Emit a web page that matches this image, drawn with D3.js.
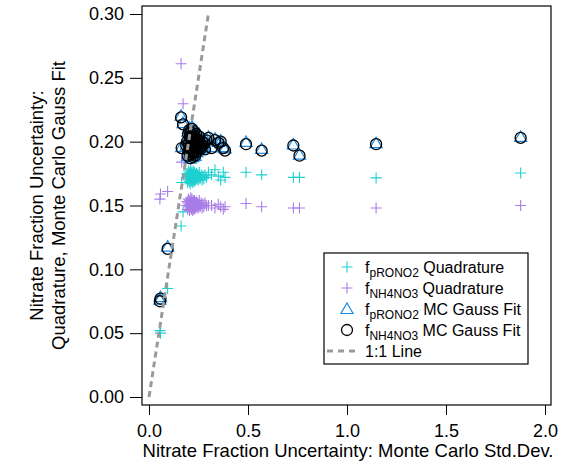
<!DOCTYPE html>
<html>
<head>
<meta charset="utf-8">
<script src="https://cdn.jsdelivr.net/npm/d3@7"></script>
<style>
  html, body { margin: 0; padding: 0; background: #fff; }
  svg { display: block; font-family: "Liberation Sans", Arial, sans-serif; }
</style>
</head>
<body>
<svg id="chart" width="566" height="469"></svg>
<script>
// Monte Carlo standard deviation of the nitrate fraction (x)
const mcStdDev = [
  0.055, 0.058, 0.094, 0.162, 0.172, 0.165, 0.300, 0.316, 0.333, 0.350, 0.362, 0.375, 0.384,
  0.490, 0.569, 0.729, 0.760, 1.147, 1.877,
  0.188, 0.192, 0.195, 0.197, 0.199, 0.201, 0.203, 0.204, 0.206, 0.207, 0.208, 0.210, 0.211,
  0.212, 0.213, 0.214, 0.215, 0.216, 0.217, 0.218, 0.219, 0.220, 0.221, 0.222, 0.223, 0.224,
  0.225, 0.226, 0.227, 0.228, 0.229, 0.230, 0.232, 0.233, 0.235, 0.236, 0.238, 0.240, 0.242,
  0.244, 0.246, 0.248, 0.251, 0.254, 0.257, 0.260, 0.264, 0.268, 0.272, 0.277, 0.283, 0.290
];
// Quadrature uncertainty, pRONO2 fraction
const quadPRONO2 = [
  0.052, 0.050, 0.085, 0.134, 0.145, 0.168, 0.176, 0.174, 0.178, 0.173, 0.170, 0.176, 0.172,
  0.176, 0.174, 0.172, 0.172, 0.1716, 0.1755,
  0.171, 0.175, 0.168, 0.173, 0.177, 0.170, 0.174, 0.169, 0.176, 0.172, 0.167, 0.174, 0.178,
  0.171, 0.173, 0.169, 0.175, 0.172, 0.176, 0.170, 0.174, 0.173, 0.168, 0.172, 0.177, 0.171,
  0.174, 0.170, 0.175, 0.173, 0.169, 0.176, 0.172, 0.171, 0.174, 0.170, 0.173, 0.175, 0.171,
  0.172, 0.174, 0.170, 0.173, 0.176, 0.171, 0.172, 0.174, 0.170, 0.173, 0.171, 0.174, 0.172
];
// Quadrature uncertainty, NH4NO3 fraction
const quadNH4NO3 = [
  0.155, 0.159, 0.161, 0.261, 0.2297, 0.184, 0.150, 0.150, 0.148, 0.151, 0.149, 0.147, 0.149,
  0.1516, 0.149, 0.148, 0.148, 0.148, 0.150,
  0.150, 0.153, 0.147, 0.152, 0.155, 0.149, 0.151, 0.146, 0.154, 0.150, 0.148, 0.152, 0.156,
  0.149, 0.151, 0.147, 0.153, 0.150, 0.155, 0.148, 0.151, 0.152, 0.146, 0.150, 0.154, 0.149,
  0.152, 0.148, 0.153, 0.151, 0.147, 0.154, 0.150, 0.149, 0.152, 0.148, 0.151, 0.153, 0.149,
  0.150, 0.152, 0.148, 0.151, 0.154, 0.149, 0.150, 0.152, 0.148, 0.151, 0.149, 0.152, 0.150
];
// Monte Carlo Gauss-fit uncertainty, pRONO2 fraction
const gaussPRONO2 = [
  0.0755, 0.0775, 0.117, 0.2195, 0.2138, 0.195, 0.203, 0.195, 0.2016, 0.199, 0.200, 0.195, 0.194,
  0.199, 0.1935, 0.197, 0.189, 0.198, 0.203,
  0.196, 0.201, 0.188, 0.207, 0.193, 0.199, 0.210, 0.191, 0.204, 0.197, 0.186, 0.202, 0.208,
  0.194, 0.199, 0.189, 0.205, 0.196, 0.211, 0.192, 0.200, 0.203, 0.187, 0.198, 0.206, 0.194,
  0.201, 0.190, 0.209, 0.197, 0.193, 0.204, 0.199, 0.188, 0.202, 0.195, 0.207, 0.198, 0.191,
  0.203, 0.196, 0.200, 0.193, 0.205, 0.197, 0.199, 0.194, 0.201, 0.196, 0.198, 0.195, 0.200
];
// Monte Carlo Gauss-fit uncertainty, NH4NO3 fraction
const gaussNH4NO3 = [
  0.0750, 0.0770, 0.116, 0.2190, 0.2135, 0.195, 0.203, 0.195, 0.2012, 0.199, 0.200, 0.195, 0.193,
  0.198, 0.1930, 0.197, 0.189, 0.198, 0.203,
  0.197, 0.200, 0.189, 0.206, 0.193, 0.198, 0.209, 0.192, 0.204, 0.196, 0.187, 0.203, 0.207,
  0.195, 0.198, 0.190, 0.204, 0.197, 0.210, 0.192, 0.201, 0.202, 0.188, 0.199, 0.205, 0.193,
  0.200, 0.191, 0.208, 0.198, 0.192, 0.203, 0.200, 0.189, 0.201, 0.196, 0.206, 0.197, 0.192,
  0.202, 0.195, 0.201, 0.194, 0.204, 0.196, 0.198, 0.195, 0.200, 0.197, 0.199, 0.194, 0.201
];

const xTicks = [0, 0.5, 1.0, 1.5, 2.0];
const yTicks = [0, 0.05, 0.10, 0.15, 0.20, 0.25, 0.30];
const oneToOne = [0, 0.3];

const colCyan = "#1fcfcf";
const colPurple = "#a97de8";
const colBlue = "#1b8be6";
const colGrey = "#9a9a9a";

const svg = d3.select("#chart");
const frame = { left: 142, right: 551, top: 6, bottom: 405 };

const x = d3.scaleLinear().domain([0, 2]).range([149, 545]);
const y = d3.scaleLinear().domain([0, 0.3]).range([397, 14]);

// axes
const yAxis = svg.append("g")
  .attr("transform", `translate(${frame.left},0)`)
  .call(d3.axisLeft(y).tickValues(yTicks).tickFormat(d3.format(".2f")).tickSize(12).tickPadding(6));
const xAxis = svg.append("g")
  .attr("transform", `translate(0,${frame.bottom})`)
  .call(d3.axisBottom(x).tickValues(xTicks).tickFormat(d3.format(".1f")).tickSize(10).tickPadding(9));
[yAxis, xAxis].forEach(g => {
  g.select(".domain").remove();
  g.selectAll(".tick line").attr("stroke", "#000").attr("stroke-width", 1);
  g.selectAll(".tick text").attr("fill", "#000").style("font-size", "18px")
    .style("font-family", "'Liberation Sans', Arial, sans-serif");
});

// plot frame
svg.append("rect")
  .attr("x", frame.left).attr("y", frame.top)
  .attr("width", frame.right - frame.left).attr("height", frame.bottom - frame.top)
  .attr("fill", "none").attr("stroke", "#000").attr("stroke-width", 1.2);

// axis titles
svg.append("text")
  .attr("x", 348).attr("y", 457)
  .attr("text-anchor", "middle").style("font-size", "18.5px")
  .text("Nitrate Fraction Uncertainty: Monte Carlo Std.Dev.");
const yTitle = svg.append("text")
  .attr("transform", `translate(0,${(frame.top + frame.bottom) / 2}) rotate(-90)`)
  .attr("text-anchor", "middle").style("font-size", "18.5px");
yTitle.append("tspan").attr("x", 0).attr("y", 43).text("Nitrate Fraction Uncertainty:");
yTitle.append("tspan").attr("x", 0).attr("y", 65).text("Quadrature, Monte Carlo Gauss Fit");

// marker shapes
const plusPath = (h) => `M${-h},0H${h}M0,${-h}V${h}`;
const triPath = (r) => {
  const p = d3.range(3).map(i => {
    const a = -Math.PI / 2 + i * 2 * Math.PI / 3;
    return [r * Math.cos(a), r * Math.sin(a)];
  });
  return `M${p[0]}L${p[1]}L${p[2]}Z`;
};

const plot = svg.append("g");
const idx = d3.range(mcStdDev.length);

plot.append("g").selectAll("path").data(idx).join("path")
  .attr("transform", i => `translate(${x(mcStdDev[i])},${y(quadPRONO2[i])})`)
  .attr("d", plusPath(5.5)).attr("stroke", colCyan).attr("stroke-width", 1.1).attr("fill", "none");
plot.append("g").selectAll("path").data(idx).join("path")
  .attr("transform", i => `translate(${x(mcStdDev[i])},${y(quadNH4NO3[i])})`)
  .attr("d", plusPath(5.5)).attr("stroke", colPurple).attr("stroke-width", 1.1).attr("fill", "none");
plot.append("g").selectAll("path").data(idx).join("path")
  .attr("transform", i => `translate(${x(mcStdDev[i])},${y(gaussPRONO2[i])})`)
  .attr("d", triPath(7)).attr("stroke", colBlue).attr("stroke-width", 1.2).attr("fill", "none");
plot.append("g").selectAll("circle").data(idx).join("circle")
  .attr("cx", i => x(mcStdDev[i])).attr("cy", i => y(gaussNH4NO3[i])).attr("r", 5.5)
  .attr("stroke", "#000").attr("stroke-width", 1.3).attr("fill", "none");

// 1:1 reference line
plot.append("line")
  .attr("x1", x(oneToOne[0])).attr("y1", y(oneToOne[0]))
  .attr("x2", x(oneToOne[1])).attr("y2", y(oneToOne[1]))
  .attr("stroke", colGrey).attr("stroke-width", 3).attr("stroke-dasharray", "6,4");

// legend
const legend = svg.append("g");
legend.append("rect").attr("x", 324).attr("y", 253).attr("width", 204).attr("height", 111)
  .attr("fill", "#fff").attr("stroke", "#000").attr("stroke-width", 1.2);
const rows = [
  { type: "plusC", sub: "pRONO2", label: " Quadrature" },
  { type: "plusP", sub: "NH4NO3", label: " Quadrature" },
  { type: "tri", sub: "pRONO2", label: " MC Gauss Fit" },
  { type: "circ", sub: "NH4NO3", label: " MC Gauss Fit" },
  { type: "line", sub: null, label: "1:1 Line" }
];
rows.forEach((r, k) => {
  const cy = 267 + k * 21;
  const g = legend.append("g");
  if (r.type === "plusC" || r.type === "plusP") {
    g.append("path").attr("transform", `translate(347,${cy})`).attr("d", plusPath(5.5))
      .attr("stroke", r.type === "plusC" ? colCyan : colPurple).attr("stroke-width", 1.1).attr("fill", "none");
  } else if (r.type === "tri") {
    g.append("path").attr("transform", `translate(347,${cy + 1})`).attr("d", triPath(7))
      .attr("stroke", colBlue).attr("stroke-width", 1.2).attr("fill", "none");
  } else if (r.type === "circ") {
    g.append("circle").attr("cx", 347).attr("cy", cy).attr("r", 5.5)
      .attr("stroke", "#000").attr("stroke-width", 1.3).attr("fill", "none");
  } else {
    g.append("line").attr("x1", 327).attr("x2", 358).attr("y1", cy).attr("y2", cy)
      .attr("stroke", colGrey).attr("stroke-width", 3).attr("stroke-dasharray", "6,5");
  }
  const t = g.append("text").attr("x", 365).attr("y", cy + 6).style("font-size", "16px");
  if (r.sub) {
    t.append("tspan").text("f");
    t.append("tspan").attr("dy", 4).style("font-size", "12px").text(r.sub);
    t.append("tspan").attr("dy", -4).text(r.label);
  } else {
    t.text(r.label);
  }
});
</script>
</body>
</html>
